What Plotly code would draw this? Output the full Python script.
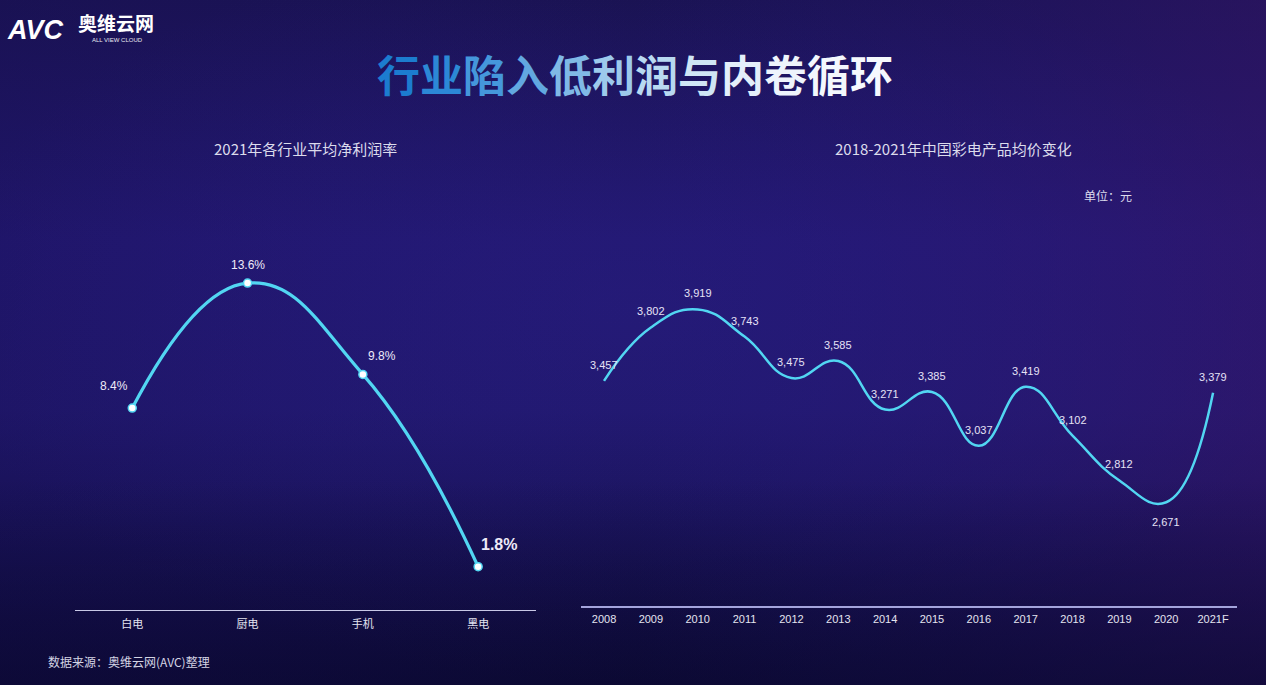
import base64
import plotly.graph_objects as go

# ---------------- data ----------------
left_categories = ["白电", "厨电", "手机", "黑电"]
left_values = [8.4, 13.6, 9.8, 1.8]
left_labels = ["8.4%", "13.6%", "9.8%", "1.8%"]

right_categories = ["2008", "2009", "2010", "2011", "2012", "2013", "2014",
                    "2015", "2016", "2017", "2018", "2019", "2020", "2021F"]
right_values = [3457, 3802, 3919, 3743, 3475, 3585, 3271,
                3385, 3037, 3419, 3102, 2812, 2671, 3379]

main_title = "行业陷入低利润与内卷循环"
left_title = "2021年各行业平均净利润率"
right_title = "2018-2021年中国彩电产品均价变化"
unit_text = "单位：元"
source_text = "数据来源：奥维云网(AVC)整理"

W, H = 1266, 685
CJK = "Noto Sans CJK SC, Liberation Sans, sans-serif"
NUM = "Liberation Sans, Noto Sans CJK SC, sans-serif"
LINE = "#52d6f2"

# ---------------- background gradient (inline SVG) ----------------
svg = f"""<svg xmlns='http://www.w3.org/2000/svg' width='{W}' height='{H}' preserveAspectRatio='none' viewBox='0 0 {W} {H}'>
<defs>
<linearGradient id='v' x1='0' y1='0' x2='0' y2='1'>
<stop offset='0' stop-color='#19124f'/>
<stop offset='0.35' stop-color='#21176c'/>
<stop offset='0.6' stop-color='#1f1768'/>
<stop offset='1' stop-color='#0e0b38'/>
</linearGradient>
<linearGradient id='h' x1='0' y1='0' x2='1' y2='0'>
<stop offset='0' stop-color='#1a1060' stop-opacity='0.25'/>
<stop offset='0.5' stop-color='#2a1a90' stop-opacity='0.0'/>
<stop offset='1' stop-color='#3a1670' stop-opacity='0.45'/>
</linearGradient>
<radialGradient id='r' cx='0.5' cy='0.45' r='0.55'>
<stop offset='0' stop-color='#2a1f8a' stop-opacity='0.4'/>
<stop offset='1' stop-color='#2a1f8a' stop-opacity='0'/>
</radialGradient>
<linearGradient id='b' x1='0' y1='0' x2='0' y2='1'>
<stop offset='0.7' stop-color='#0a0830' stop-opacity='0'/>
<stop offset='1' stop-color='#0a0830' stop-opacity='0.6'/>
</linearGradient>
</defs>
<rect width='{W}' height='{H}' fill='url(#v)'/>
<rect width='{W}' height='{H}' fill='url(#r)'/>
<rect width='{W}' height='{H}' fill='url(#h)'/>
<rect width='{W}' height='{H}' fill='url(#b)'/>
</svg>"""
bg_uri = "data:image/svg+xml;base64," + base64.b64encode(svg.encode()).decode()

fig = go.Figure()

# ---------------- left chart ----------------
fig.add_trace(go.Scatter(
    x=left_categories, y=left_values, xaxis="x", yaxis="y",
    mode="lines+markers",
    line=dict(color=LINE, width=3.2, shape="spline", smoothing=1.3),
    marker=dict(size=8, color="#ffffff", line=dict(color=LINE, width=1.5)),
    hoverinfo="skip", showlegend=False,
))

# ---------------- right chart ----------------
fig.add_trace(go.Scatter(
    x=right_categories, y=right_values, xaxis="x2", yaxis="y2",
    mode="lines",
    line=dict(color=LINE, width=2.5, shape="spline", smoothing=1.3),
    hoverinfo="skip", showlegend=False,
))

annotations = []

# left labels (category axis -> use category index)
left_pos = [("right", -2, 22), ("center", 0, 18), ("left", 3, 18), ("left", 1, 22)]
for i, (v, lab) in enumerate(zip(left_values, left_labels)):
    xa, xs, ys = left_pos[i]
    big = i == len(left_values) - 1
    annotations.append(dict(
        x=i, y=v, xref="x", yref="y", text=f"<b>{lab}</b>" if big else lab, showarrow=False,
        xanchor=xa, yanchor="middle", xshift=xs, yshift=ys,
        font=dict(family=NUM, size=16 if big else 12, color="#eeeaf8"),
    ))

# right labels
vmin = min(right_values)
for i, v in enumerate(right_values):
    below = v == vmin
    annotations.append(dict(
        x=i, y=v, xref="x2", yref="y2", text=f"{v:,}", showarrow=False,
        xanchor="center", yanchor="middle", yshift=-20 if below else 16,
        font=dict(family=NUM, size=11, color="#e6e2f6"),
    ))

# main title with blue-to-white gradient per character
grad = ["#1c7ccf", "#2c88d6", "#4597db", "#62a8e0", "#80b9e6", "#9dcaec",
        "#b8d9f1", "#d0e6f5", "#e4effa", "#eef4fc", "#f3f7fd", "#f6f9fe"]
title_html = "".join(f"<span style='color:{grad[i]}'>{ch}</span>" for i, ch in enumerate(main_title))
annotations.append(dict(
    x=635 / W, y=1 - 73 / H, xref="paper", yref="paper", text=f"<b>{title_html}</b>",
    showarrow=False, xanchor="center", yanchor="middle",
    font=dict(family=CJK, size=43, color="#ffffff"),
))

# subtitles
annotations.append(dict(
    x=305 / W, y=1 - 148 / H, xref="paper", yref="paper", text=left_title,
    showarrow=False, xanchor="center", yanchor="middle",
    font=dict(family=CJK, size=15, color="#dcdcec"),
))
annotations.append(dict(
    x=953 / W, y=1 - 148 / H, xref="paper", yref="paper", text=right_title,
    showarrow=False, xanchor="center", yanchor="middle",
    font=dict(family=CJK, size=15, color="#dcdcec"),
))
annotations.append(dict(
    x=1108 / W, y=1 - 196 / H, xref="paper", yref="paper", text=unit_text,
    showarrow=False, xanchor="center", yanchor="middle",
    font=dict(family=CJK, size=12, color="#dcdcec"),
))
annotations.append(dict(
    x=46 / W, y=1 - 661 / H, xref="paper", yref="paper", text=source_text,
    showarrow=False, xanchor="left", yanchor="middle",
    font=dict(family=CJK, size=12, color="#d4d4e4"),
))

# logo
annotations.append(dict(
    x=5 / W, y=1 - 30 / H, xref="paper", yref="paper", text="<b><i>AVC</i></b>",
    showarrow=False, xanchor="left", yanchor="middle",
    font=dict(family="Liberation Sans, sans-serif", size=27, color="#ffffff"),
))
annotations.append(dict(
    x=76 / W, y=1 - 23 / H, xref="paper", yref="paper", text="<b>奥维云网</b>",
    showarrow=False, xanchor="left", yanchor="middle",
    font=dict(family=CJK, size=19, color="#ffffff"),
))
annotations.append(dict(
    x=117 / W, y=1 - 40 / H, xref="paper", yref="paper", text="ALL VIEW CLOUD",
    showarrow=False, xanchor="center", yanchor="middle",
    font=dict(family="Liberation Sans, sans-serif", size=6, color="#e8e8f0"),
))

fig.update_layout(
    width=W, height=H,
    margin=dict(l=0, r=0, t=0, b=0),
    paper_bgcolor="#1b1560", plot_bgcolor="rgba(0,0,0,0)",
    images=[dict(source=bg_uri, xref="paper", yref="paper", x=0, y=1,
                 sizex=1, sizey=1, sizing="stretch", layer="below",
                 xanchor="left", yanchor="top")],
    annotations=annotations,
    xaxis=dict(
        domain=[74.6 / W, 535.8 / W], range=[-0.5, 3.5], type="category",
        showgrid=False, zeroline=False, showline=True, linecolor="#c8c8e6", linewidth=1,
        ticks="", tickfont=dict(family=CJK, size=11, color="#e4e4f0"), anchor="y",
        ticklabelstandoff=4, fixedrange=True,
    ),
    yaxis=dict(
        domain=[1 - 610 / H, 1 - 249.4 / H], range=[0, 15],
        showgrid=False, zeroline=False, showline=False, showticklabels=False,
        anchor="x", fixedrange=True,
    ),
    xaxis2=dict(
        domain=[580.6 / W, 1236.5 / W], range=[-0.5, 13.5], type="category",
        showgrid=False, zeroline=False, showline=True, linecolor="#a4a4dc", linewidth=1.5,
        ticks="", tickfont=dict(family=NUM, size=11, color="#e4e4f0"), anchor="y2",
        ticklabelstandoff=2, fixedrange=True,
    ),
    yaxis2=dict(
        domain=[1 - 606 / H, 1 - 219.6 / H], range=[2000, 4500],
        showgrid=False, zeroline=False, showline=False, showticklabels=False,
        anchor="x2", fixedrange=True,
    ),
)

fig.write_html("out.html")
